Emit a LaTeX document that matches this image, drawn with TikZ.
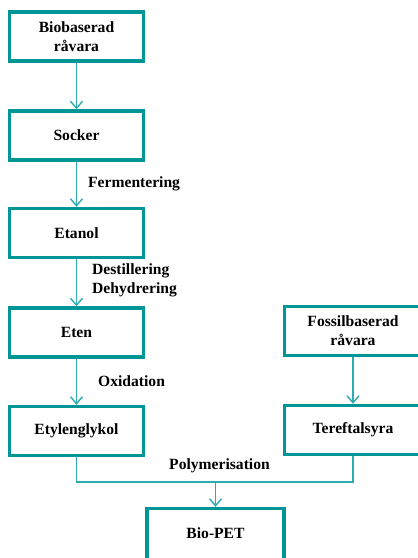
\documentclass[tikz,border=0pt]{standalone}
\usepackage{fontspec}
\setmainfont{Liberation Serif}
\usetikzlibrary{arrows.meta}
\definecolor{boxteal}{RGB}{0,150,152}
\definecolor{flowteal}{RGB}{45,172,176}
\begin{document}
\begin{tikzpicture}[x=1pt,y=-1pt,
  txt/.style={font=\fontsize{15.6pt}{19pt}\selectfont\bfseries},
  stagebox/.style={draw=boxteal, line width=3.4pt, fill=white,
    minimum width=134pt, minimum height=49pt, inner sep=0pt,
    align=center, txt},
  widebox/.style={stagebox, minimum width=137pt},
  flow/.style={draw=flowteal, line width=1.4pt,
    -{Straight Barb[length=7pt,width=12pt,line width=1.4pt]}},
  link/.style={draw=flowteal, line width=1.4pt},
  steplabel/.style={anchor=west, align=left, inner sep=0pt, txt}]
\useasboundingbox (0,0) rectangle (418,558);
\begin{scope}
\clip (0,0) rectangle (418,558);

% Bio-based chain
\node[stagebox] (bio)   at (76.5,36.5)  {Biobaserad\\råvara};
\node[stagebox] (sugar) at (76.5,135.5) {Socker};
\node[stagebox] (eth)   at (76.5,233)   {Etanol};
\node[stagebox] (ene)   at (76.5,332.5) {Eten};
\node[stagebox] (meg)   at (76.5,431)   {Etylenglykol};

% Fossil chain
\node[widebox] (fossil) at (353,331)   {Fossilbaserad\\råvara};
\node[widebox] (pta)    at (353,430)   {Tereftalsyra};

% Product (box runs past the lower edge)
\node[widebox, minimum height=60pt] (pet) at (215.5,538.5) {};
\node[txt, inner sep=0pt] (petname) at (215.5,533) {Bio-PET};

% Arrows between stages
\draw[flow] (bio.south) -- (sugar.north);
\draw[flow] (sugar.south) -- (eth.north);
\draw[flow] (eth.south) -- (ene.north);
\draw[flow] (ene.south) -- (meg.north);
\draw[flow] (fossil.south) -- (pta.north);

% Merge into polymerisation
\coordinate (mergeL) at (76.5,482);
\coordinate (mergeR) at (353,482);
\coordinate (mergeM) at (215.5,482);
\draw[link] (meg.south) -- (mergeL) -- (mergeR) -- (pta.south);
\draw[flow] (mergeM) -- (pet.north);

% Process labels
\node[steplabel] (ferm) at (88,184) {Fermentering};
\node[steplabel] (dest) at (92,280.5) {Destillering\\Dehydrering};
\node[steplabel] (oxi)  at (98,381) {Oxidation};
\node[txt, inner sep=0pt] (poly) at (219.5,466) {Polymerisation};
\end{scope}
\end{tikzpicture}
\end{document}
